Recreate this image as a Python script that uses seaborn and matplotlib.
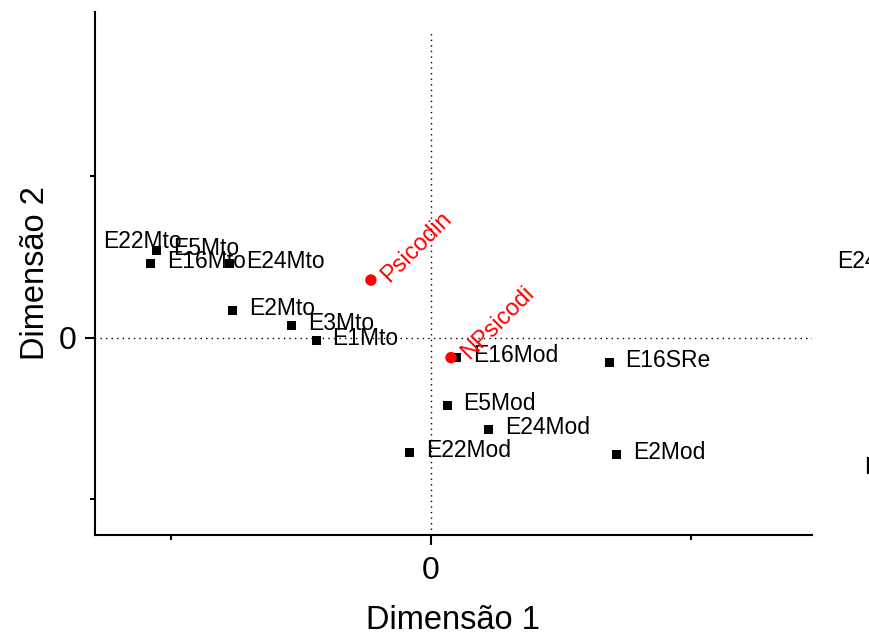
import matplotlib
matplotlib.use('Agg')
import matplotlib.pyplot as plt
import pandas as pd
import seaborn as sns

# point labels and coordinates
labels = ['E22Mto', 'E5Mto', 'E16Mto', 'E24Mto', 'E2Mto', 'E3Mto', 'E1Mto',
          'E16Mod', 'E16SRe', 'E5Mod', 'E24Mod', 'E22Mod', 'E2Mod',
          'E24SRe', 'E1Mod']
dim1 = [-1.323, -1.054, -1.077, -0.773, -0.762, -0.535, -0.442,
        0.100, 0.685, 0.062, 0.223, -0.081, 0.715,
        1.500, 1.604]
dim2 = [0.586, 0.543, 0.463, 0.463, 0.167, 0.074, -0.019,
        -0.123, -0.154, -0.420, -0.568, -0.710, -0.722,
        0.463, -0.815]

# supplementary points (red)
sup_labels = ['Psicodin', 'NPsicodi']
sup_dim1 = [-0.231, 0.077]
sup_dim2 = [0.358, -0.123]

df = pd.DataFrame({'label': labels, 'x': dim1, 'y': dim2})
df_sup = pd.DataFrame({'label': sup_labels, 'x': sup_dim1, 'y': sup_dim2})

sns.set_style('ticks')
plt.rcParams['font.family'] = ['Liberation Sans', 'DejaVu Sans']
plt.rcParams['text.color'] = 'black'
plt.rcParams['axes.labelcolor'] = 'black'
plt.rcParams['xtick.color'] = 'black'
plt.rcParams['ytick.color'] = 'black'

fig = plt.figure(figsize=(8.69, 6.39), dpi=100)
ax = fig.add_axes([0.1093, 0.1628, 0.8251, 0.8184])

ax.axhline(0, xmin=0.007, color='black', linestyle=(0, (1, 3)), linewidth=1)
ax.axvline(0, ymax=0.962, color='black', linestyle=(0, (1, 3)), linewidth=1)

sns.scatterplot(data=df, x='x', y='y', marker='s', color='black', s=42,
                edgecolor='none', ax=ax, zorder=3)
sns.scatterplot(data=df_sup, x='x', y='y', marker='o', color='red', s=68,
                edgecolor='none', ax=ax, zorder=4)

for lab, px, py in zip(df['label'], df['x'], df['y']):
    ax.annotate(lab, (px, py), xytext=(11.5, 1.5), textcoords='offset points',
                ha='left', va='center', fontsize=16.5, color='black',
                annotation_clip=False)

for lab, px, py in zip(df_sup['label'], df_sup['x'], df_sup['y']):
    ax.annotate(lab, (px, py), xytext=(10, 1), textcoords='offset points',
                ha='left', va='center', fontsize=17, color='red',
                rotation=45, rotation_mode='anchor', annotation_clip=False)

ax.set_xlim(-1.292, 1.465)
ax.set_ylim(-1.222, 2.019)

ax.set_xticks([0])
ax.set_xticklabels(['0'])
ax.set_xticks([-1, 1], minor=True)
ax.set_yticks([0])
ax.set_yticklabels(['0'])
ax.set_yticks([-1, 1], minor=True)
ax.tick_params(which='major', direction='out', length=7, width=1.5,
               labelsize=23, color='black', labelcolor='black')
ax.tick_params(axis='x', which='major', pad=8)
ax.tick_params(axis='y', which='major', pad=6)
ax.tick_params(which='minor', direction='out', length=3.5, width=1.5,
               color='black')

for side in ['top', 'right']:
    ax.spines[side].set_visible(False)
for side in ['left', 'bottom']:
    ax.spines[side].set_linewidth(1.5)
    ax.spines[side].set_color('black')

ax.set_xlabel('Dimensão 1', fontsize=23.5, labelpad=14)
ax.set_ylabel('Dimensão 2', fontsize=23.5, labelpad=6)

fig.savefig('out.png', dpi=100)
